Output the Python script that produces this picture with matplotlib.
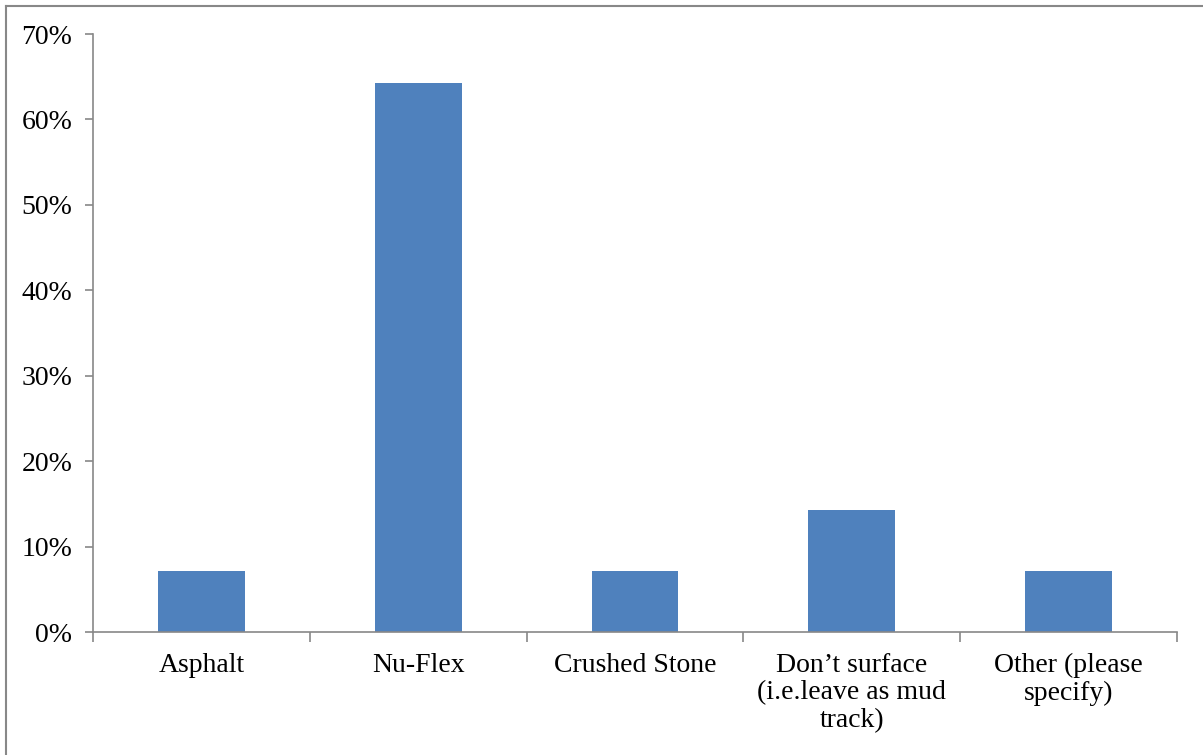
import numpy as np
from matplotlib import pyplot as plt
from matplotlib.lines import Line2D
from matplotlib.ticker import FixedLocator, PercentFormatter

categories = ["Asphalt", "Nu-Flex", "Crushed Stone",
              "Don\u2019t surface\n(i.e.leave as mud\ntrack)", "Other (please\nspecify)"]
shares = [7.14, 64.29, 7.14, 14.29, 7.14]
yticks = [0, 10, 20, 30, 40, 50, 60, 70]

W, H = 1203, 755
plt.rcParams['font.family'] = ['Liberation Serif', 'DejaVu Serif']
fig = plt.figure(figsize=(W / 100, H / 100), dpi=100)
ax = fig.add_axes([93 / W, 1 - 632 / H, (1177 - 93) / W, (632 - 34) / H])

x = np.arange(len(categories))
ax.bar(x, shares, width=0.4, color='#4F81BD', zorder=2)
ax.set_xlim(-0.5, len(categories) - 0.5)
ax.set_ylim(0, 70)

ax.yaxis.set_major_locator(FixedLocator(yticks))
ax.yaxis.set_major_formatter(PercentFormatter(decimals=0))
ax.set_xticks(x)
ax.set_xticklabels(categories, linespacing=1.13)
ax.xaxis.set_minor_locator(FixedLocator(np.arange(-0.5, len(categories), 1)))

gray = '#888888'
for s in ['top', 'right']:
    ax.spines[s].set_visible(False)
for s in ['left', 'bottom']:
    ax.spines[s].set_color(gray)
    ax.spines[s].set_linewidth(1.2)

ax.tick_params(axis='y', which='major', direction='out', length=6, width=1.2,
               color=gray, labelsize=20, pad=9)
ax.tick_params(axis='x', which='major', length=0, labelsize=20, pad=15)
ax.tick_params(axis='x', which='minor', direction='out', length=7, width=1.2, color=gray)

# chart frame (left and top visible)
fig.add_artist(Line2D([5.5 / W, 5.5 / W], [0, 1 - 5.5 / H], transform=fig.transFigure,
                      color=gray, linewidth=1.5))
fig.add_artist(Line2D([5.5 / W, 1], [1 - 5.5 / H, 1 - 5.5 / H], transform=fig.transFigure,
                      color=gray, linewidth=1.5))

fig.savefig('out.png', dpi=100)
